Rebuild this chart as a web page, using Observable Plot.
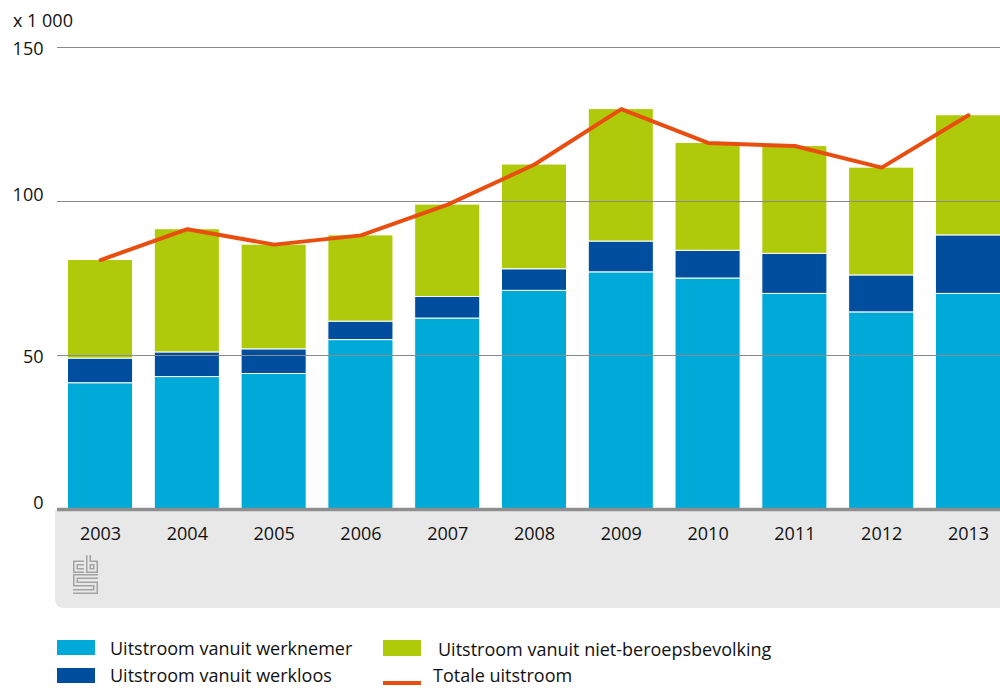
<!DOCTYPE html>
<html><head><meta charset="utf-8">
<script src="https://cdn.jsdelivr.net/npm/d3@7"></script>
<script src="https://cdn.jsdelivr.net/npm/@observablehq/plot@0.6"></script>
<style>
body{margin:0;background:#fff;font-family:"Open Sans",sans-serif;}
#wrap{position:relative;width:1000px;height:688px;overflow:hidden;}
#bg{position:absolute;left:55px;top:510px;width:945px;height:98px;background:#e8e8e8;border-bottom-left-radius:8px;}
#chart{position:absolute;left:0;top:0;}
.lab{position:absolute;font-size:18px;line-height:14px;color:#111;white-space:nowrap;}
.sw{position:absolute;width:38px;}
#logo{position:absolute;left:72px;top:554px;}
</style></head><body>
<div id="wrap">
  <div id="bg"></div>
  <svg id="logo" width="27" height="42" viewBox="-1 -1 27 42">
    <g fill="none" stroke-linejoin="miter" stroke-linecap="butt">
      <g stroke="#a3a3a3" stroke-width="5">
        <path d="M11 8 L2.5 8 L2.5 15.5 L11 15.5"/>
        <path d="M15.5 0 L15.5 15.5 L22.5 15.5 L22.5 8 L15.5 8"/>
        <path d="M25 21.5 L2.5 21.5 L2.5 29 L22.5 29 L22.5 36.5 L0 36.5"/>
      </g>
      <g stroke="#e8e8e8" stroke-width="2">
        <path d="M11 8 L2.5 8 L2.5 15.5 L11 15.5"/>
        <path d="M15.5 0 L15.5 15.5 L22.5 15.5 L22.5 8 L15.5 8"/>
        <path d="M25 21.5 L2.5 21.5 L2.5 29 L22.5 29 L22.5 36.5 L0 36.5"/>
      </g>
    </g>
  </svg>
  <div id="chart"></div>
  <div class="lab" style="left:13px;top:13px">x 1 000</div>
  <div id="legend"></div>
</div>
<script>
const years = ["2003","2004","2005","2006","2007","2008","2009","2010","2011","2012","2013"];
const werknemer   = [41, 43, 44, 55, 62, 71, 77, 75, 70, 64, 70];
const werkloos    = [ 8,  8,  8,  6,  7,  7, 10,  9, 13, 12, 19];
const nietBeroeps = [32, 40, 34, 28, 30, 34, 43, 35, 35, 35, 39];
const totaal      = [81, 91, 86, 89, 99,112,130,119,118,111,128];
const series = ["Uitstroom vanuit werknemer","Uitstroom vanuit werkloos","Uitstroom vanuit niet-beroepsbevolking"];
const lineName = "Totale uitstroom";
const colors = ["#00aad8","#004e9d","#afca0b"];
const lineColor = "#e94e10";
const gridTicks = [50,100,150];

const rows = [];
years.forEach((yr,i)=>{
  rows.push({year:yr, serie:series[0], value:werknemer[i]});
  rows.push({year:yr, serie:series[1], value:werkloos[i]});
  rows.push({year:yr, serie:series[2], value:nietBeroeps[i]});
});
const lineRows = years.map((yr,i)=>({year:yr, value:totaal[i]}));

const plot = Plot.plot({
  width:1000, height:615,
  marginLeft:57, marginRight:0, marginTop:47, marginBottom:106,
  style:{fontFamily:"Open Sans", fontSize:"18px", color:"#111", background:"transparent", overflow:"visible"},
  x:{type:"band", domain:years, range:[67.5,1000.5], paddingInner:0.25, paddingOuter:0, round:false, label:null},
  y:{domain:[0,150], range:[509,47], label:null},
  color:{domain:series, range:colors},
  marks:[
    Plot.barY(rows, {x:"year", y:"value", fill:"serie", order:series, stroke:"white", strokeWidth:1}),
    Plot.ruleY(gridTicks, {stroke:"#8a8a8a", strokeWidth:1}),
    Plot.ruleY([0], {stroke:"#8e8e8e", strokeWidth:3.5}),
    Plot.lineY(lineRows, {x:"year", y:"value", stroke:lineColor, strokeWidth:4}),
    Plot.axisX({tickSize:0, tickPadding:18, label:null, fontSize:18}),
    Plot.axisY({ticks:[50,150], tickSize:0, tickPadding:14, dy:2, label:null, fontSize:18}),
    Plot.axisY({ticks:[0,100], tickSize:0, tickPadding:14, dy:-6, label:null, fontSize:18})
  ]
});
document.getElementById("chart").appendChild(plot);

const legend = document.getElementById("legend");
const items = [
  {color:colors[0], left:57, top:640, h:15, text:series[0], tl:110, tt:641},
  {color:colors[1], left:57, top:668, h:15, text:series[1], tl:110, tt:668},
  {color:colors[2], left:383, top:640, h:16, text:series[2], tl:438, tt:642},
  {color:lineColor, left:383, top:681, h:4, text:lineName, tl:433, tt:668}
];
items.forEach(it=>{
  const s = document.createElement("div");
  s.className = "sw";
  s.style.cssText = `left:${it.left}px;top:${it.top}px;height:${it.h}px;background:${it.color}`;
  legend.appendChild(s);
  const t = document.createElement("div");
  t.className = "lab";
  t.style.cssText = `left:${it.tl}px;top:${it.tt}px`;
  t.textContent = it.text;
  legend.appendChild(t);
});
</script>
</body></html>
